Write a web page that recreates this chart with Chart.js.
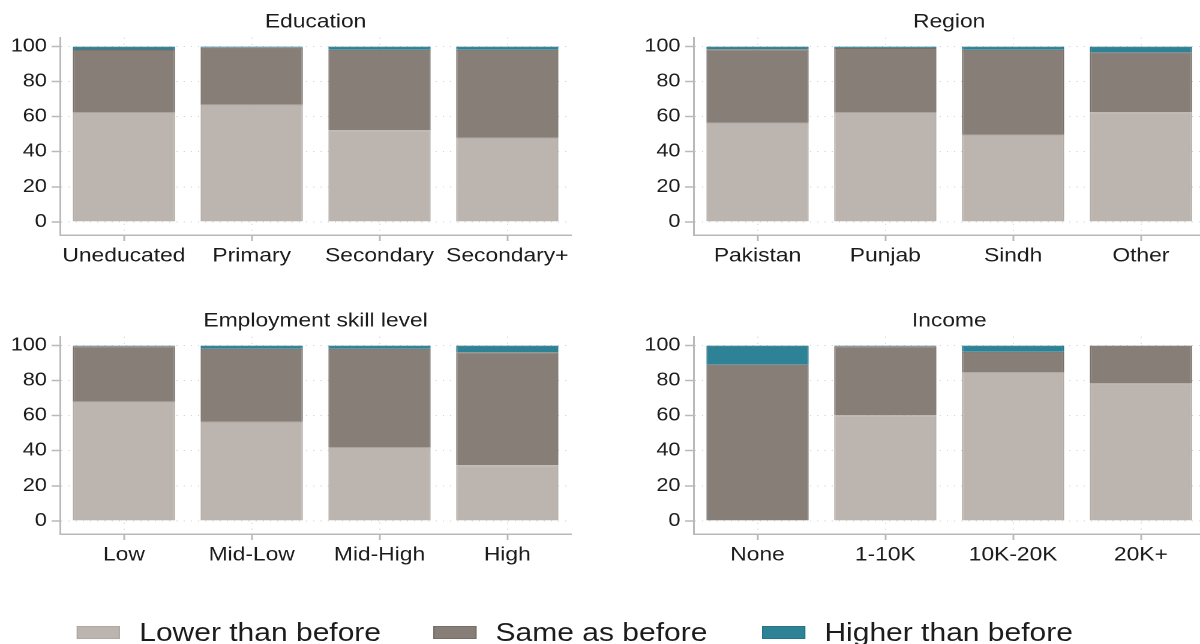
<!DOCTYPE html>
<html>
<head>
<meta charset="utf-8">
<script src="https://cdn.jsdelivr.net/npm/chart.js@4.4.1/dist/chart.umd.min.js"></script>
<style>
  html, body { margin: 0; padding: 0; background: #fff; width: 1200px; height: 644px; overflow: hidden; }
  /* the reference is drawn a bit wide, so the whole figure is stretched horizontally */
  #stage { position: absolute; left: 0; top: 0; width: 1000px; height: 644px; transform: scaleX(1.2); transform-origin: 0 0; }
  .panel { position: absolute; width: 490px; height: 270px; }
  .legend-item { position: absolute; top: 618px; height: 28px; display: flex; align-items: center;
    font-family: 'Liberation Sans', Arial, sans-serif; font-size: 25px; color: #1c1c1c; white-space: nowrap; }
  .legend-item span.box { display: inline-block; width: 36px; height: 13px; margin-right: 16px; box-sizing: border-box; }
</style>
</head>
<body>
<div id="stage">
  <div class="panel" style="left:0px;top:0px"><canvas id="edu"></canvas></div>
  <div class="panel" style="left:528px;top:0px"><canvas id="region"></canvas></div>
  <div class="panel" style="left:0px;top:299px"><canvas id="skill"></canvas></div>
  <div class="panel" style="left:528px;top:299px"><canvas id="income"></canvas></div>
  <div id="legend"></div>
</div>
<script>
const seriesNames = ['Lower than before', 'Same as before', 'Higher than before'];
const seriesColors = ['#bcb4ae', '#877e78', '#2e8295'];
const seriesBorders = ['#b0a8a2', '#766d67', '#277487'];
const yTicks = [0, 20, 40, 60, 80, 100];

// Education
const eduLabels = ['Uneducated', 'Primary', 'Secondary', 'Secondary+'];
const eduLower = [62.3, 66.7, 52.3, 48.1];
const eduSame = [36.0, 32.7, 45.8, 50.0];
const eduHigher = [1.7, 0.6, 1.9, 1.9];

// Region
const regionLabels = ['Pakistan', 'Punjab', 'Sindh', 'Other'];
const regionLower = [56.7, 62.3, 49.8, 62.6];
const regionSame = [41.8, 36.9, 48.3, 34.1];
const regionHigher = [1.5, 0.8, 1.9, 3.3];

// Employment skill level
const skillLabels = ['Low', 'Mid-Low', 'Mid-High', 'High'];
const skillLower = [67.9, 56.7, 41.8, 31.7];
const skillSame = [31.7, 41.4, 56.3, 64.5];
const skillHigher = [0.4, 1.9, 1.9, 3.8];

// Income
const incomeLabels = ['None', '1-10K', '10K-20K', '20K+'];
const incomeLower = [0, 60.3, 84.9, 78.4];
const incomeSame = [89.1, 39.3, 11.5, 21.6];
const incomeHigher = [10.9, 0.4, 3.6, 0];

Chart.defaults.font.family = "'Liberation Sans', Arial, sans-serif";
Chart.defaults.color = '#1c1c1c';

const axisGray = '#b9b9b9';
const gridGray = '#d4d4d4';

function makeChart(id, title, labels, lower, same, higher) {
  const values = [lower, same, higher];
  const ctx = document.getElementById(id).getContext('2d');
  return new Chart(ctx, {
    type: 'bar',
    data: {
      labels: labels,
      datasets: values.map((v, i) => ({
        label: seriesNames[i],
        data: v,
        backgroundColor: seriesColors[i],
        borderColor: seriesBorders[i],
        borderWidth: 1,
        barPercentage: 0.8,
        categoryPercentage: 1.0,
      })),
    },
    options: {
      responsive: true,
      maintainAspectRatio: false,
      animation: false,
      devicePixelRatio: 2,
      layout: { padding: { left: 0, right: 14, top: 0, bottom: 0 } },
      plugins: {
        legend: { display: false },
        tooltip: { enabled: false },
        title: {
          display: true,
          text: title,
          fullSize: false,
          color: '#1c1c1c',
          font: { size: 19, weight: 'normal' },
          padding: { top: 11, bottom: 4 },
        },
      },
      scales: {
        x: {
          stacked: true,
          offset: true,
          grid: {
            offset: false,
            color: gridGray,
            lineWidth: 1,
            tickColor: axisGray,
            tickLength: 6,
            tickWidth: 1.5,
            tickBorderDash: [],
          },
          border: { display: true, color: axisGray, width: 1.5, dash: [1, 5] },
          ticks: { font: { size: 19 }, color: '#1c1c1c', padding: 4, maxRotation: 0, autoSkip: false },
          afterFit: (scale) => { scale.height = 35; },
        },
        y: {
          stacked: true,
          min: -7.5,
          max: 105,
          afterBuildTicks: (scale) => { scale.ticks = yTicks.map(v => ({ value: v })); },
          grid: {
            color: gridGray,
            lineWidth: 1,
            tickColor: axisGray,
            tickLength: 7,
            tickWidth: 1.5,
            tickBorderDash: [],
          },
          border: { display: true, color: axisGray, width: 1.5, dash: [1, 5] },
          ticks: { font: { size: 18 }, color: '#1c1c1c', padding: 4 },
          afterFit: (scale) => { scale.width = 50; },
        },
      },
    },
  });
}

makeChart('edu', 'Education', eduLabels, eduLower, eduSame, eduHigher);
makeChart('region', 'Region', regionLabels, regionLower, regionSame, regionHigher);
makeChart('skill', 'Employment skill level', skillLabels, skillLower, skillSame, skillHigher);
makeChart('income', 'Income', incomeLabels, incomeLower, incomeSame, incomeHigher);

// legend below the panels
const legendLeft = [64, 361, 635];
const legend = document.getElementById('legend');
seriesNames.forEach((name, i) => {
  const item = document.createElement('div');
  item.className = 'legend-item';
  item.style.left = legendLeft[i] + 'px';
  const box = document.createElement('span');
  box.className = 'box';
  box.style.background = seriesColors[i];
  box.style.border = '1px solid ' + seriesBorders[i];
  item.appendChild(box);
  item.appendChild(document.createTextNode(name));
  legend.appendChild(item);
});
</script>
</body>
</html>
